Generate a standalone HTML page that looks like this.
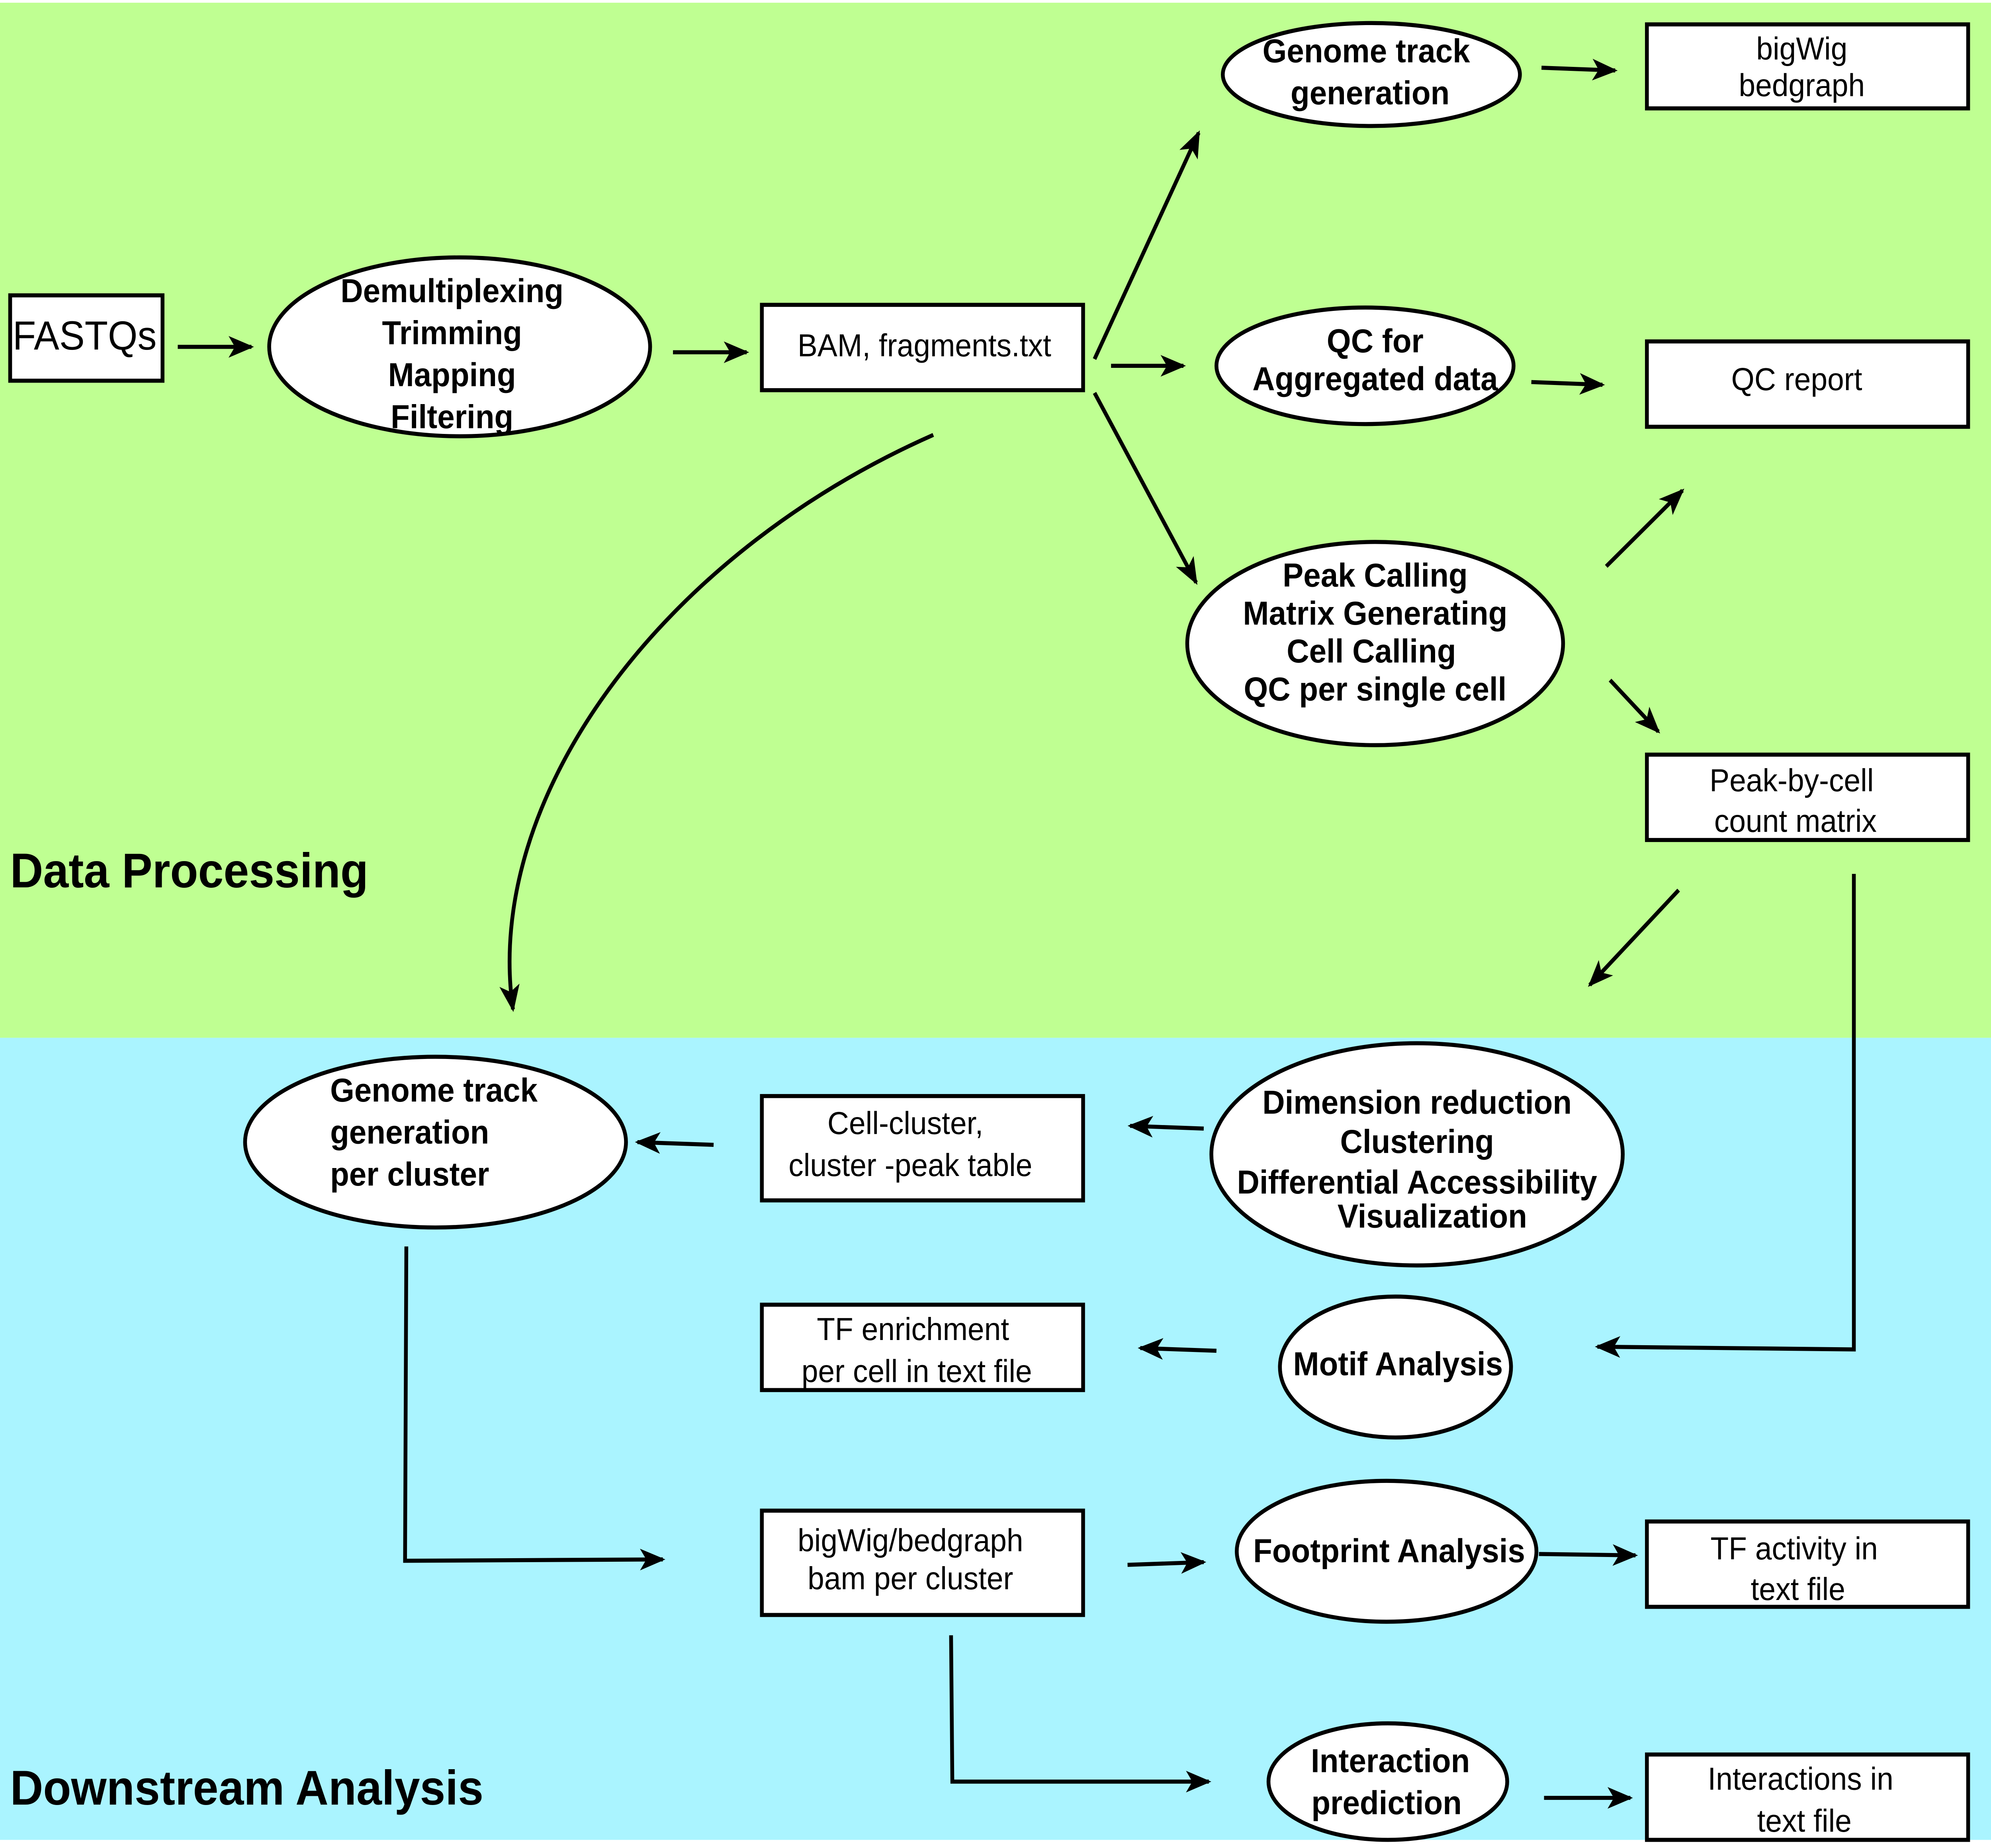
<!DOCTYPE html>
<html><head><meta charset="utf-8"><style>
html,body{margin:0;padding:0;background:#fff;width:100%;height:100%;overflow:hidden;}
svg{display:block;width:100vw;height:100vh;}
text{font-family:"Liberation Sans",Arial,sans-serif;fill:#000;}
.b{font-weight:bold;font-size:24.5px;}
.n{font-size:23.5px;}
</style></head><body>
<svg viewBox="0 0 1568 1364" preserveAspectRatio="none" xmlns="http://www.w3.org/2000/svg">
<defs>
<marker id="a" viewBox="0 0 20 16" refX="18" refY="8" markerWidth="20" markerHeight="16" markerUnits="userSpaceOnUse" orient="auto">
<path d="M0,0 L20,8 L0,16 L5,8 Z" fill="#000"/>
</marker>
</defs>
<rect x="0" y="2" width="1568" height="764" fill="#bfff92"/>
<rect x="0" y="766" width="1568" height="592" fill="#aaf4ff"/>
<g fill="#fff" stroke="#000" stroke-width="3">
<rect x="8" y="218" width="120" height="63"/>
<ellipse cx="362" cy="256" rx="150" ry="66"/>
<rect x="600" y="225" width="253" height="63"/>
<ellipse cx="1080" cy="55" rx="117" ry="38"/>
<rect x="1297" y="18" width="253" height="62"/>
<ellipse cx="1075" cy="270" rx="117" ry="43"/>
<rect x="1297" y="252" width="253" height="63"/>
<ellipse cx="1083" cy="475" rx="148" ry="75"/>
<rect x="1297" y="557" width="253" height="63"/>
<ellipse cx="343" cy="843" rx="150" ry="63"/>
<rect x="600" y="809" width="253" height="77"/>
<ellipse cx="1116" cy="852" rx="162" ry="82"/>
<rect x="600" y="963" width="253" height="63"/>
<ellipse cx="1099" cy="1009" rx="91" ry="52"/>
<rect x="600" y="1115" width="253" height="77"/>
<ellipse cx="1092" cy="1145" rx="118" ry="52"/>
<rect x="1297" y="1123" width="253" height="63"/>
<ellipse cx="1093" cy="1315" rx="94" ry="43"/>
<rect x="1297" y="1295" width="253" height="63"/>
</g>
<g fill="none" stroke="#000" stroke-width="3" marker-end="url(#a)">
<path d="M140,256 L198,256"/>
<path d="M530,260 L588,260"/>
<path d="M862,265 L944,98"/>
<path d="M875,270 L932,270"/>
<path d="M862,290 L942,430"/>
<path d="M1214,50 L1272,52"/>
<path d="M1206,282 L1262,284"/>
<path d="M1265,418 L1325,362"/>
<path d="M1268,502 L1306,540"/>
<path d="M1322,657 L1252,727"/>
<path d="M1460,645 L1460,996 L1258,994"/>
<path d="M735,321 C520,410 380,590 404,745"/>
<path d="M562,845 L502,843"/>
<path d="M948,833 L890,831"/>
<path d="M958,997 L898,995"/>
<path d="M320,920 L319,1152 L522,1151"/>
<path d="M888,1155 L948,1153"/>
<path d="M1212,1147 L1288,1148"/>
<path d="M749,1207 L750,1315 L952,1315"/>
<path d="M1216,1327 L1284,1327"/>
</g>
<text x="10" y="258" font-size="30">FASTQs</text>
<g class="b" text-anchor="middle">
<text x="356" y="223">Demultiplexing</text>
<text x="356" y="254">Trimming</text>
<text x="356" y="285">Mapping</text>
<text x="356" y="316">Filtering</text>
<text x="1076" y="46">Genome track</text>
<text x="1079" y="77">generation</text>
<text x="1083" y="260">QC for</text>
<text x="1083" y="288">Aggregated data</text>
<text x="1083" y="433">Peak Calling</text>
<text x="1083" y="461">Matrix Generating</text>
<text x="1080" y="489">Cell Calling</text>
<text x="1083" y="517">QC per single cell</text>
<text x="1116" y="822">Dimension reduction</text>
<text x="1116" y="851">Clustering</text>
<text x="1116" y="881">Differential Accessibility</text>
<text x="1128" y="906">Visualization</text>
<text x="1101" y="1015">Motif Analysis</text>
<text x="1094" y="1153">Footprint Analysis</text>
<text x="1095" y="1308">Interaction</text>
<text x="1092" y="1339">prediction</text>
</g>
<g class="b">
<text x="260" y="813">Genome track</text>
<text x="260" y="844">generation</text>
<text x="260" y="875">per cluster</text>
</g>
<g class="n" text-anchor="middle">
<text x="728" y="263">BAM, fragments.txt</text>
<text x="1419" y="44">bigWig</text>
<text x="1419" y="71">bedgraph</text>
<text x="1415" y="288">QC report</text>
<text x="1411" y="584">Peak-by-cell</text>
<text x="1414" y="614">count matrix</text>
<text x="713" y="837">Cell-cluster,</text>
<text x="717" y="868">cluster -peak table</text>
<text x="719" y="989">TF enrichment</text>
<text x="722" y="1020">per cell in text file</text>
<text x="717" y="1145">bigWig/bedgraph</text>
<text x="717" y="1173">bam per cluster</text>
<text x="1413" y="1151">TF activity in</text>
<text x="1416" y="1181">text file</text>
<text x="1418" y="1321">Interactions in</text>
<text x="1421" y="1352">text file</text>
</g>
<text x="8" y="655" font-size="36" font-weight="bold">Data Processing</text>
<text x="8" y="1332" font-size="36" font-weight="bold">Downstream Analysis</text>
</svg>
</body></html>
